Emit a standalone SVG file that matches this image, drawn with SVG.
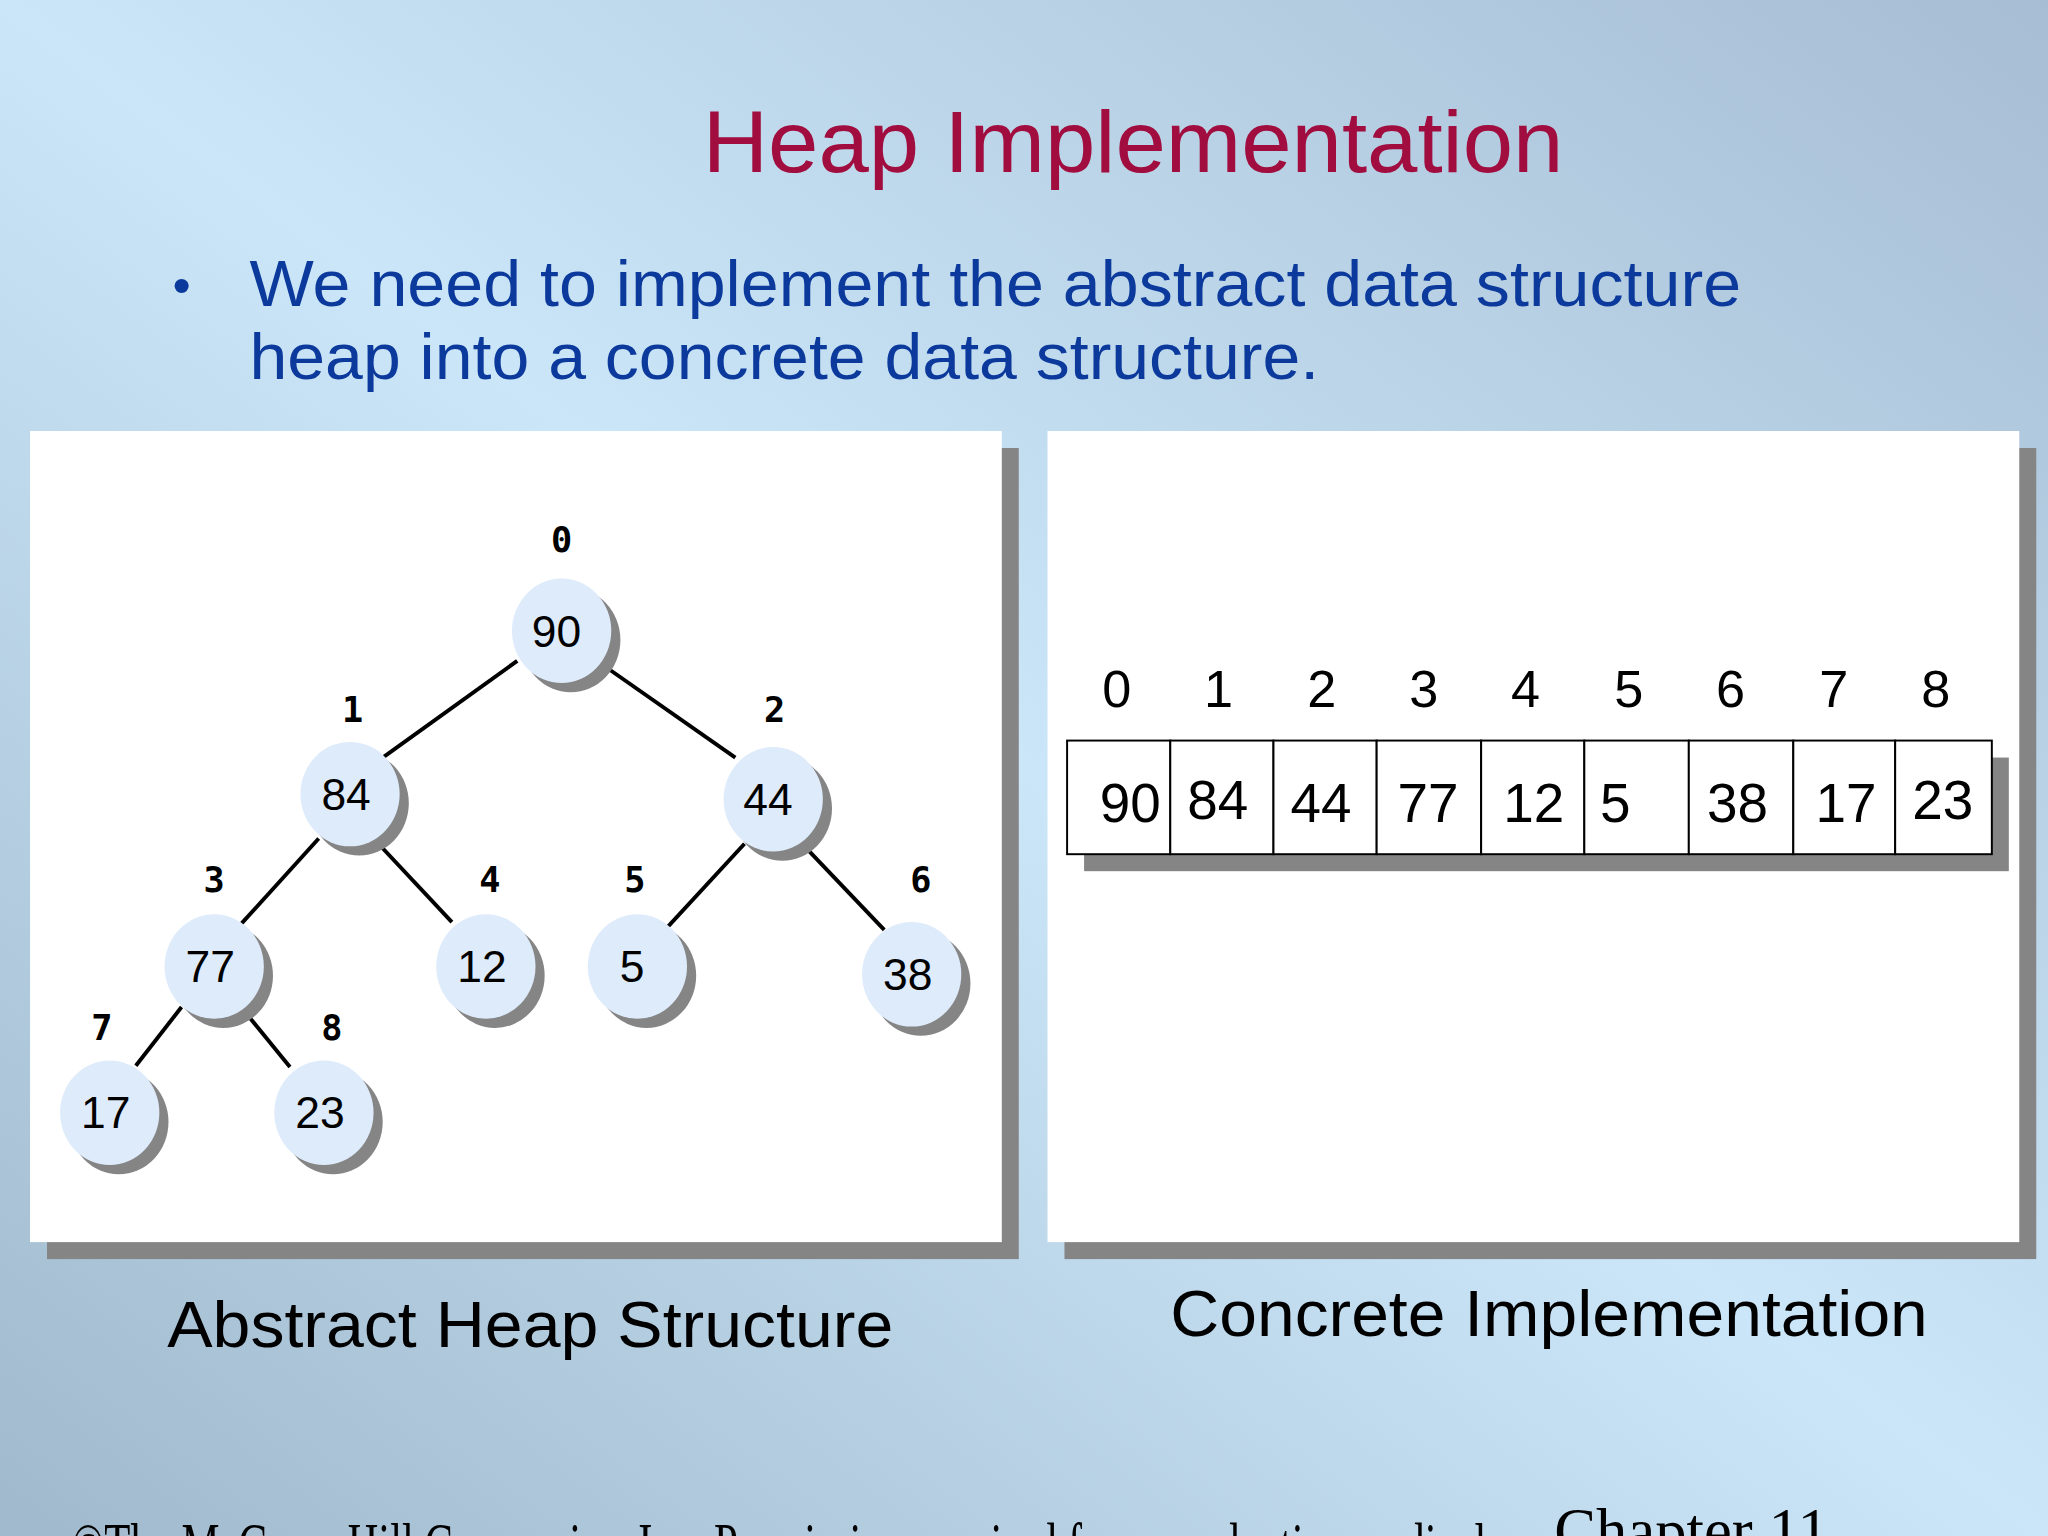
<svg xmlns="http://www.w3.org/2000/svg" width="2048" height="1536" viewBox="0 0 2048 1536">
<defs>
<linearGradient id="bg" x1="1" y1="0" x2="0" y2="1">
<stop offset="0" stop-color="#a6bdd3"/><stop offset="0.5" stop-color="#cbe6f8"/><stop offset="1" stop-color="#a0b9cc"/>
</linearGradient>
<style>
.nd{fill:#deebfb}.sh{fill:#858585}
.v{font-family:"Liberation Sans",Arial,sans-serif;font-size:34px;fill:#000;text-anchor:middle}
.ix{font-family:"DejaVu Sans Mono","Liberation Mono",monospace;font-weight:bold;font-size:27px;fill:#000;text-anchor:middle}
.e{stroke:#000;stroke-width:3;fill:none}
.cell{fill:#fff;stroke:#000;stroke-width:1.5}
.ai{font-family:"Liberation Sans",Arial,sans-serif;font-size:40px;fill:#000;text-anchor:middle}
.av{font-family:"Liberation Sans",Arial,sans-serif;font-size:42px;fill:#000}
.cap{font-family:"Liberation Sans",Arial,sans-serif;font-size:50px;fill:#000}
</style>
</defs>
<rect width="2048" height="1536" fill="url(#bg)"/>
<g transform="scale(1.30612)">
<text x="538" y="132" font-family="Liberation Sans,Arial,sans-serif" font-size="66" fill="#a00d3e" textLength="659" lengthAdjust="spacingAndGlyphs">Heap Implementation</text>
<text x="132" y="232" font-family="Liberation Sans,Arial,sans-serif" font-size="40" fill="#0b3a9c">•</text>
<text font-family="Liberation Sans,Arial,sans-serif" font-size="49" fill="#0b3a9c"><tspan x="191" y="234" textLength="1142" lengthAdjust="spacingAndGlyphs">We need to implement the abstract data structure</tspan><tspan x="191" y="290" textLength="819" lengthAdjust="spacingAndGlyphs">heap into a concrete data structure.</tspan></text>
<rect x="36" y="343" width="744" height="621" fill="#858585"/>
<rect x="23" y="330" width="744" height="621" fill="#fff"/>
<rect x="815" y="343" width="744" height="621" fill="#858585"/>
<rect x="802" y="330" width="744" height="621" fill="#fff"/>
<g id="edges">
<line class="e" x1="396" y1="506" x2="293" y2="580"/>
<line class="e" x1="460" y1="508" x2="563" y2="580"/>
<line class="e" x1="244" y1="642" x2="185" y2="707"/>
<line class="e" x1="286" y1="642" x2="346" y2="706"/>
<line class="e" x1="570" y1="646" x2="510" y2="711"/>
<line class="e" x1="616" y1="648" x2="677" y2="712"/>
<line class="e" x1="139" y1="771" x2="104" y2="816"/>
<line class="e" x1="187" y1="774" x2="222" y2="817"/>
</g>
<g id="n0"><ellipse class="sh" cx="437" cy="490" rx="38" ry="40"/><ellipse class="nd" cx="430" cy="483" rx="38" ry="40"/><text class="v" x="426" y="495">90</text><text class="ix" x="430" y="423">0</text></g>
<g id="n1"><ellipse class="sh" cx="275" cy="615" rx="38" ry="40"/><ellipse class="nd" cx="268" cy="608" rx="38" ry="40"/><text class="v" x="265" y="620">84</text><text class="ix" x="270" y="553">1</text></g>
<g id="n2"><ellipse class="sh" cx="599" cy="619" rx="38" ry="40"/><ellipse class="nd" cx="592" cy="612" rx="38" ry="40"/><text class="v" x="588" y="624">44</text><text class="ix" x="593" y="553">2</text></g>
<g id="n3"><ellipse class="sh" cx="171" cy="747" rx="38" ry="40"/><ellipse class="nd" cx="164" cy="740" rx="38" ry="40"/><text class="v" x="161" y="752">77</text><text class="ix" x="164" y="683">3</text></g>
<g id="n4"><ellipse class="sh" cx="379" cy="747" rx="38" ry="40"/><ellipse class="nd" cx="372" cy="740" rx="38" ry="40"/><text class="v" x="369" y="752">12</text><text class="ix" x="375" y="683">4</text></g>
<g id="n5"><ellipse class="sh" cx="495" cy="747" rx="38" ry="40"/><ellipse class="nd" cx="488" cy="740" rx="38" ry="40"/><text class="v" x="484" y="752">5</text><text class="ix" x="486" y="683">5</text></g>
<g id="n6"><ellipse class="sh" cx="705" cy="753" rx="38" ry="40"/><ellipse class="nd" cx="698" cy="746" rx="38" ry="40"/><text class="v" x="695" y="758">38</text><text class="ix" x="705" y="683">6</text></g>
<g id="n7"><ellipse class="sh" cx="91" cy="859" rx="38" ry="40"/><ellipse class="nd" cx="84" cy="852" rx="38" ry="40"/><text class="v" x="81" y="864">17</text><text class="ix" x="78" y="796">7</text></g>
<g id="n8"><ellipse class="sh" cx="255" cy="859" rx="38" ry="40"/><ellipse class="nd" cx="248" cy="852" rx="38" ry="40"/><text class="v" x="245" y="864">23</text><text class="ix" x="254" y="796">8</text></g>
<g id="array">
<rect x="830" y="580" width="708" height="87" fill="#858585"/>
<rect class="cell" x="817" y="567" width="79" height="87"/>
<rect class="cell" x="896" y="567" width="79" height="87"/>
<rect class="cell" x="975" y="567" width="79" height="87"/>
<rect class="cell" x="1054" y="567" width="80" height="87"/>
<rect class="cell" x="1134" y="567" width="79" height="87"/>
<rect class="cell" x="1213" y="567" width="80" height="87"/>
<rect class="cell" x="1293" y="567" width="80" height="87"/>
<rect class="cell" x="1373" y="567" width="78" height="87"/>
<rect class="cell" x="1451" y="567" width="74" height="87"/>
<text class="ai" x="855" y="541">0</text><text class="ai" x="933" y="541">1</text><text class="ai" x="1012" y="541">2</text><text class="ai" x="1090" y="541">3</text><text class="ai" x="1168" y="541">4</text><text class="ai" x="1247" y="541">5</text><text class="ai" x="1325" y="541">6</text><text class="ai" x="1404" y="541">7</text><text class="ai" x="1482" y="541">8</text>
<text class="av" x="842" y="629">90</text><text class="av" x="909" y="627">84</text><text class="av" x="988" y="629">44</text><text class="av" x="1070" y="629">77</text><text class="av" x="1151" y="629">12</text><text class="av" x="1225" y="629">5</text><text class="av" x="1307" y="629">38</text><text class="av" x="1390" y="629">17</text><text class="av" x="1464" y="627">23</text>
</g>
<text class="cap" x="128" y="1031" textLength="556" lengthAdjust="spacingAndGlyphs">Abstract Heap Structure</text>
<text class="cap" x="896" y="1023" textLength="580" lengthAdjust="spacingAndGlyphs">Concrete Implementation</text>
<text x="55" y="1200" font-family="Liberation Serif,serif" font-size="48" fill="#000" textLength="1120" lengthAdjust="spacingAndGlyphs">©The McGraw-Hill Companies, Inc. Permission required for reproduction or display.</text>
<text x="1190" y="1188" font-family="Liberation Serif,serif" font-size="48" fill="#000">Chapter 11</text>
</g>
</svg>
